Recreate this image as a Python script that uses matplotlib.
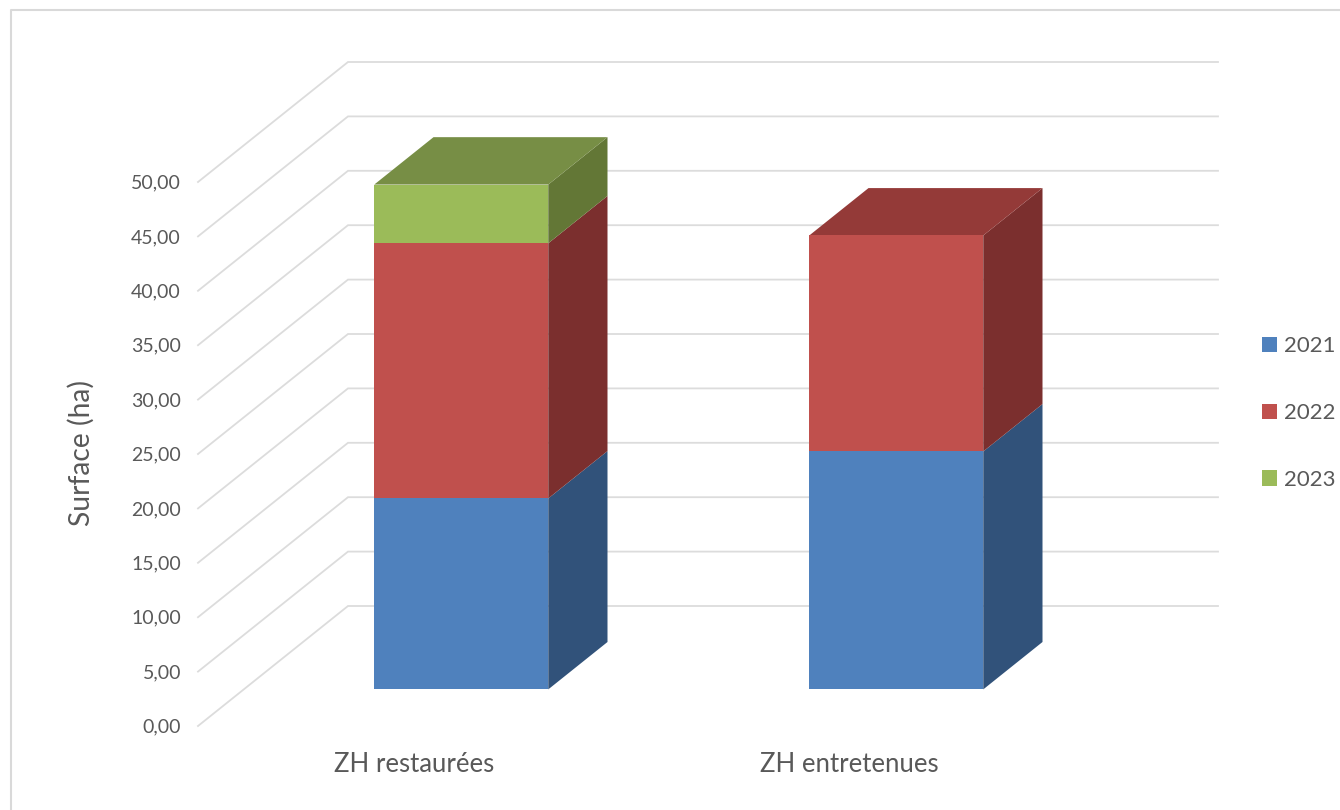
import matplotlib
matplotlib.use("Agg")
import matplotlib.pyplot as plt
from matplotlib.patches import Polygon, Patch
from matplotlib.transforms import ScaledTranslation

plt.rcParams['font.family'] = ['Lato', 'DejaVu Sans']

categories = ['ZH restaurées', 'ZH entretenues']
years = ['2021', '2022', '2023']
values_2021 = [17.55, 21.87]
values_2022 = [23.45, 19.85]
values_2023 = [5.4, 0.0]
series = [values_2021, values_2022, values_2023]
y_ticks = [0, 5, 10, 15, 20, 25, 30, 35, 40, 45, 50]
y_labels = ['0,00', '5,00', '10,00', '15,00', '20,00', '25,00', '30,00', '35,00', '40,00', '45,00', '50,00']
y_title = 'Surface (ha)'

front_colors = ['#4F81BD', '#C0504D', '#9BBB59']
side_colors = ['#31527A', '#7B2F2E', '#637736']
top_colors = ['#3A6090', '#943A38', '#778E45']

W, H = 1340, 810
fig = plt.figure(figsize=(W / 100, H / 100), dpi=100, facecolor='white')
# The axes is the back wall of the 3-D chart
L, R, T, B = 348, 1218, 62, 606
ax = fig.add_axes([L / W, 1 - B / H, (R - L) / W, (B - T) / H])
ax.set_xlim(-0.5, 1.5)
ax.set_ylim(0, 50)
ax.axis('off')

UX = (R - L) / 2.0      # px per category
UY = (B - T) / 50.0     # px per value unit
DEPTH_X, DEPTH_Y = 150 / UX, 120 / UY   # shear of the floor, in data units


def proj(x, y, d):
    """Data position on the wall, pulled forward by depth d (0 back, 1 front)."""
    return x - d * DEPTH_X, y - d * DEPTH_Y


GRID = '#DCDCDC'
for v in y_ticks:
    x0, y0 = proj(-0.5, v, 1)
    x1, y1 = proj(-0.5, v, 0)
    ax.plot([x0, x1, 1.5], [y0, y1, y1], color=GRID, lw=1.3, clip_on=False, zorder=1,
            solid_joinstyle='miter')
    off = ScaledTranslation(-17 / 100, -1 / 100, fig.dpi_scale_trans)
    ax.text(x0, y0, y_labels[v // 5], ha='right', va='center', color='#595959', fontsize=14,
            transform=ax.transData + off, clip_on=False)

BAR_W = 0.4
D_FRONT, D_BACK = 0.695, 0.30
for i, cat in enumerate(categories):
    base = 0.0
    xl, xr = i - BAR_W / 2, i + BAR_W / 2
    top_idx = max(k for k in range(3) if series[k][i] > 0)
    for k in range(3):
        v = series[k][i]
        if v <= 0:
            continue
        y0, y1 = base, base + v
        ax.add_patch(Polygon([proj(xr, y0, D_FRONT), proj(xr, y0, D_BACK),
                              proj(xr, y1, D_BACK), proj(xr, y1, D_FRONT)],
                             closed=True, fc=side_colors[k], ec='none', clip_on=False, zorder=3))
        ax.add_patch(Polygon([proj(xl, y0, D_FRONT), proj(xr, y0, D_FRONT),
                              proj(xr, y1, D_FRONT), proj(xl, y1, D_FRONT)],
                             closed=True, fc=front_colors[k], ec='none', clip_on=False, zorder=4))
        if k == top_idx:
            ax.add_patch(Polygon([proj(xl, y1, D_FRONT), proj(xr, y1, D_FRONT),
                                  proj(xr, y1, D_BACK), proj(xl, y1, D_BACK)],
                                 closed=True, fc=top_colors[k], ec='none', clip_on=False, zorder=3))
        base = y1
    lx, ly = proj(i, 0, 1)
    off = ScaledTranslation(-1.5 / 100, -38 / 100, fig.dpi_scale_trans)
    ax.text(lx, ly, cat, ha='center', va='center', color='#595959', fontsize=18.5,
            transform=ax.transData + off, clip_on=False)

fig.text(81 / W, 1 - 453 / H, y_title, rotation=90, ha='center', va='center',
         color='#595959', fontsize=20.3)

handles = [Patch(fc=c, ec='none', label=y) for c, y in zip(front_colors, years)]
fig.legend(handles=handles, loc='center left', bbox_to_anchor=(1262 / W, 1 - 413 / H), frameon=False,
           fontsize=16, labelcolor='#595959', handlelength=0.68, handleheight=0.68,
           handletextpad=0.3, labelspacing=2.1, borderpad=0, borderaxespad=0)

# Chart-area border: top and left edges only are inside the crop
fig.add_artist(plt.Line2D([1.0, 10.5 / W, 10.5 / W], [1 - 9.5 / H, 1 - 9.5 / H, 0],
                          color='#D9D9D9', lw=1.5, transform=fig.transFigure))

fig.savefig('out.png', dpi=100, facecolor='white')
